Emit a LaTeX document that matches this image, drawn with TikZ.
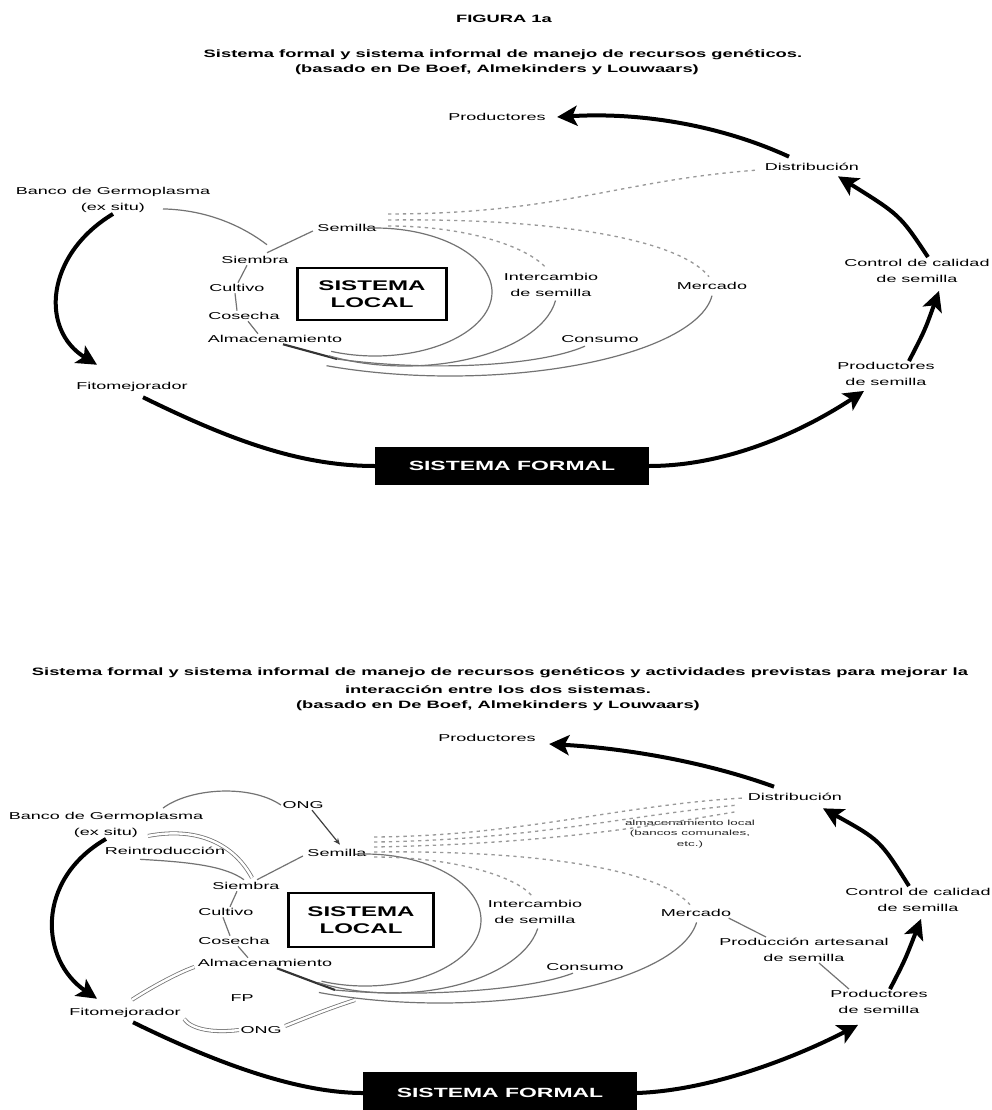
\documentclass[tikz,border=0pt]{standalone}
\usepackage{fontspec}
\setmainfont{Liberation Sans}
\newfontfamily\lab[FakeStretch=1.8]{Liberation Sans}
\newfontfamily\ttl[FakeStretch=1.72]{Liberation Sans}
\usetikzlibrary{arrows.meta,calc}
\begin{document}
\begin{tikzpicture}[x=0.75pt,y=-0.75pt,
  lab/.style={font=\lab\fontsize{7.5}{11.5}\selectfont,text=black,inner sep=1pt,align=center},
  smalllab/.style={font=\lab\fontsize{5.6}{8.2}\selectfont,text=black!85,inner sep=0.5pt,align=center},
  ttlstyle/.style={font=\ttl\bfseries\fontsize{8}{12}\selectfont,inner sep=0pt,align=center},
  bigarrow/.style={line width=3pt,-{Stealth[length=15pt,width=15pt,inset=3.5pt]}},
  bigline/.style={line width=3pt},
  thinline/.style={draw=black!55,line width=0.9pt},
  dashgray/.style={draw=black!40,line width=1pt,dash pattern=on 2.5pt off 3pt},
  dbl/.style={draw=black!55,line width=0.6pt,double=white,double distance=1.8pt},
  localbox/.style={draw=black,line width=2pt,minimum width=112pt,minimum height=39pt,font=\ttl\bfseries\fontsize{10.5}{13}\selectfont,align=center,inner sep=0pt},
  formalbox/.style={fill=black,text=white,minimum width=205pt,minimum height=28.5pt,font=\ttl\bfseries\fontsize{10}{12}\selectfont,inner sep=0pt}
]
\useasboundingbox (0,0) rectangle (992,1110);

%%%%%%%%%%%%%%%% TOP %%%%%%%%%%%%%%%%
\node[ttlstyle] (fig) at (504,19) {FIGURA 1a};
\node[ttlstyle] (tt1) at (503,55) {Sistema formal y sistema informal de manejo de recursos genéticos.};
\node[ttlstyle] (tt2) at (497,70) {(basado en De Boef, Almekinders y Louwaars)};

\node[lab] (prodT) at (497,117) {Productores};
\node[lab] (distT) at (812,167) {Distribución};
\node[lab] (bancoT) at (113,200) {Banco de Germoplasma\\(ex situ)};
\node[lab] (fitoT) at (132,387) {Fitomejorador};
\node[lab] (semT) at (347,228) {Semilla};
\node[lab] (siemT) at (255,260) {Siembra};
\node[lab] (cultT) at (237,288) {Cultivo};
\node[lab] (cosT) at (244,316) {Cosecha};
\node[lab] (almT) at (275,339) {Almacenamiento};
\node[localbox] (localT) at (372,294) {SISTEMA\\LOCAL};
\node[lab] (interT) at (551,285) {Intercambio\\de semilla};
\node[lab] (merT) at (712,286) {Mercado};
\node[lab] (consT) at (600,339) {Consumo};
\node[lab] (controlT) at (917,271) {Control de calidad\\de semilla};
\node[lab] (prsemT) at (886,374) {Productores\\de semilla};
\node[formalbox] (formT) at (512,466) {SISTEMA FORMAL};
\coordinate (bundT) at (337,359);

% thick cycle
\draw[bigarrow] (bancoT.south) .. controls (45,255) and (40,330) .. ($(fitoT.north)+(-35,-16)$);
\draw[bigline] ($(fitoT.south)+(11,4)$) .. controls (230,440) and (300,466) .. (formT.west);
\draw[bigarrow] (formT.east) .. controls (740,466) and (820,420) .. ($(prsemT.south)+(-22,4)$);
\draw[bigarrow] ($(prsemT.north)+(23,0)$) .. controls (925,330) .. ($(controlT.south)+(22,7)$);
\draw[bigarrow] ($(controlT.north)+(11,-1)$) .. controls (900,215) .. ($(distT.south)+(26,4)$);
\draw[bigarrow] ($(distT.north)+(-23,-5)$) .. controls (720,125) and (640,112) .. ($(prodT.east)+(10,0)$);

% local chain
\draw[thinline] ($(bancoT.south)+(50,-5)$) .. controls (210,210) and (245,228) .. ($(siemT.north)+(12,-10)$);
\draw[thinline] ($(semT.west)+(-3,3)$) -- ($(siemT.north)+(12,-2)$);
\draw[thinline] ($(siemT.south)+(-8,0)$) -- ($(cultT.north)+(1,0)$);
\draw[thinline] ($(cultT.south)+(-2,0)$) -- ($(cosT.north)+(-7,0)$);
\draw[thinline] ($(cosT.south)+(4,0)$) -- ($(almT.north)+(-17,0)$);
\draw[draw=black!80,line width=1.6pt] ($(almT.south)+(8,0)$) -- (bundT);

% ellipses
\draw[thinline] (375,292) ++(-95:117 and 64) arc[start angle=-95,end angle=112,x radius=117,y radius=64];
\draw[thinline] (405,290) ++(8:152 and 76) arc[start angle=8,end angle=120,x radius=152,y radius=76];
\draw[thinline] (450,288) ++(5:263 and 88) arc[start angle=5,end angle=118,x radius=263,y radius=88];
\draw[thinline] ($(consT.south)+(-15,2)$) .. controls (540,366) and (430,372) .. (bundT);

% dashed
\draw[dashgray] ($(semT.east)+(10,-14)$) .. controls (560,214) and (620,180) .. ($(distT.west)+(-5,3)$);
\draw[dashgray] ($(semT.east)+(10,-8)$) .. controls (560,218) and (680,240) .. ($(merT.north)+(-3,-4)$);
\draw[dashgray] ($(semT.east)+(10,-2)$) .. controls (470,226) and (530,248) .. ($(interT.north)+(-4,-3)$);

%%%%%%%%%%%%%%%% BOTTOM %%%%%%%%%%%%%%%%
\node[ttlstyle] (bt1) at (500,673) {Sistema formal y sistema informal de manejo de recursos genéticos y actividades previstas para mejorar la};
\node[ttlstyle] (bt2) at (498,690) {interacción entre los dos sistemas.};
\node[ttlstyle] (bt3) at (498,706) {(basado en De Boef, Almekinders y Louwaars)};

\node[lab] (prodB) at (487,738) {Productores};
\node[lab] (distB) at (795,797) {Distribución};
\node[lab] (bancoB) at (106,825) {Banco de Germoplasma\\(ex situ)};
\node[lab] (ongT) at (303,805) {ONG};
\node[lab] (semB) at (337,853) {Semilla};
\node[lab] (reinB) at (165,851) {Reintroducción};
\node[lab] (siemB) at (246,886) {Siembra};
\node[lab] (cultB) at (226,912) {Cultivo};
\node[lab] (cosB) at (234,941) {Cosecha};
\node[lab] (almB) at (265,963) {Almacenamiento};
\node[localbox,minimum width=109pt,minimum height=40.5pt] (localB) at (361,920) {SISTEMA\\LOCAL};
\node[lab] (interB) at (535,912) {Intercambio\\de semilla};
\node[lab] (merB) at (696,913) {Mercado};
\node[lab] (consB) at (585,967) {Consumo};
\node[lab] (artB) at (804,950) {Producción artesanal\\de semilla};
\node[lab] (prsemB) at (879,1002) {Productores\\de semilla};
\node[lab] (controlB) at (918,900) {Control de calidad\\de semilla};
\node[lab] (fitoB) at (125,1013) {Fitomejorador};
\node[lab] (fpB) at (242,998) {FP};
\node[lab] (ongB) at (261,1030) {ONG};
\node[smalllab] (stB) at (690,834) {almacenamiento local\\(bancos comunales,\\etc.)};
\node[formalbox,minimum height=31pt] (formB) at (500,1093) {SISTEMA FORMAL};
\coordinate (bundB) at (335,990);

% thick cycle
\draw[bigarrow] (bancoB.south) .. controls (35,880) and (40,960) .. ($(fitoB.north)+(-28,-8)$);
\draw[bigline] ($(fitoB.south)+(8,3)$) .. controls (220,1065) and (300,1093) .. (formB.west);
\draw[bigarrow] (formB.east) .. controls (720,1090) and (810,1050) .. ($(prsemB.south)+(-21,10)$);
\draw[bigarrow] ($(prsemB.north)+(11,0)$) .. controls (905,960) .. ($(controlB.south)+(3,6)$);
\draw[bigarrow] ($(controlB.north)+(-9,-1)$) .. controls (880,840) .. ($(distB.south)+(28,6)$);
\draw[bigarrow] ($(distB.north)+(-21,-5)$) .. controls (700,760) and (620,748) .. ($(prodB.east)+(12,6)$);

% local chain
\draw[thinline] ($(bancoB.north)+(57,-3)$) .. controls (190,788) and (250,784) .. (ongT.west);
\draw[draw=black!75,line width=0.9pt,-{Stealth[length=5pt,width=4pt]}] ($(ongT.south)+(9,0)$) -- ($(semB.north)+(3,-3)$);
\draw[thinline] ($(semB.west)+(-3,3)$) -- ($(siemB.north)+(11,-1)$);
\draw[thinline] ($(siemB.south)+(-9,0)$) -- ($(cultB.north)+(4,0)$);
\draw[thinline] ($(cultB.south)+(-3,0)$) -- ($(cosB.north)+(-4,0)$);
\draw[thinline] ($(cosB.south)+(4,0)$) -- ($(almB.north)+(-17,0)$);
\draw[draw=black!80,line width=1.6pt] ($(almB.south)+(12,0)$) -- (bundB);

% ellipses
\draw[thinline] (365,920) ++(-95:116 and 66) arc[start angle=-95,end angle=112,x radius=116,y radius=66];
\draw[thinline] (392,915) ++(10:148 and 78) arc[start angle=10,end angle=120,x radius=148,y radius=78];
\draw[thinline] (440,913) ++(6:258 and 90) arc[start angle=6,end angle=118,x radius=258,y radius=90];
\draw[thinline] ($(consB.south)+(-12,1)$) .. controls (530,990) and (420,998) .. (bundB);

% dashed
\draw[dashgray] ($(semB.east)+(6,-16)$) .. controls (520,836) and (620,805) .. ($(distB.west)+(-3,1)$);
\draw[dashgray] ($(semB.east)+(6,-11)$) .. controls (530,840) and (630,815) .. ($(distB.west)+(-8,8)$);
\draw[dashgray] ($(semB.east)+(6,-6)$) .. controls (540,844) and (640,828) .. ($(distB.west)+(-12,15)$);
\draw[dashgray] ($(semB.east)+(6,-1)$) .. controls (540,850) and (660,870) .. ($(merB.north)+(-6,-3)$);
\draw[dashgray] ($(semB.east)+(6,4)$) .. controls (450,857) and (515,875) .. ($(interB.north)+(-3,-3)$);

% links to artisanal production
\draw[thinline] ($(merB.east)+(-4,5)$) -- ($(artB.north)+(-38,0)$);
\draw[thinline] ($(artB.south)+(15,0)$) -- ($(prsemB.north)+(-30,0)$);

% planned activities (double lines)
\draw[dbl] ($(bancoB.south)+(42,-3)$) .. controls (200,826) and (235,846) .. ($(siemB.north)+(6,-3)$);
\draw[thinline] ($(reinB.south)+(-25,3)$) .. controls (190,862) and (225,866) .. ($(siemB.north)+(-2,-1)$);
\draw[dbl] ($(fitoB.north)+(7,-7)$) .. controls (155,985) and (180,972) .. ($(almB.west)+(-2,4)$);
\draw[dbl] ($(fitoB.east)+(2,6)$) .. controls (192,1030) and (215,1033) .. (ongB.west);
\draw[dbl] ($(ongB.east)+(2,-4)$) .. controls (305,1018) and (330,1008) .. (355,1000);
\end{tikzpicture}
\end{document}
